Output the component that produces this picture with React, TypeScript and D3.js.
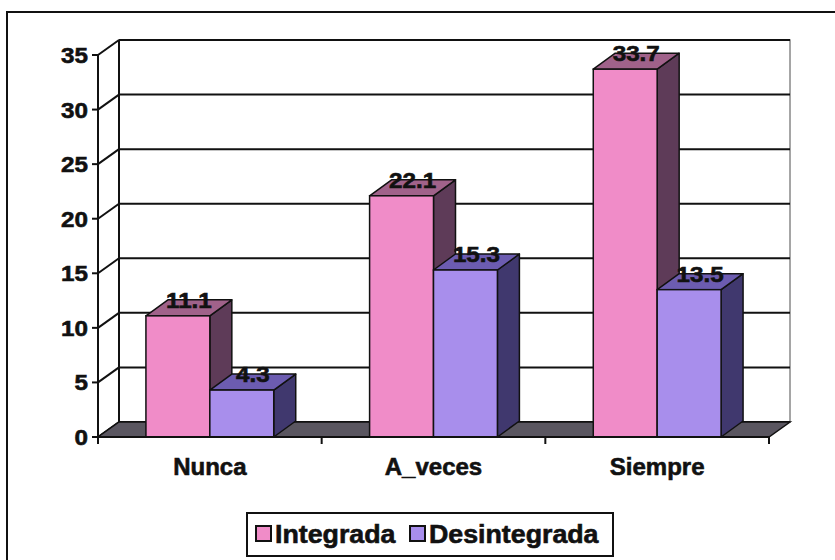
import React from "react";
import * as d3 from "d3";

const categories = ["Nunca", "A_veces", "Siempre"];
const seriesNames = ["Integrada", "Desintegrada"];
const integrada = [11.1, 22.1, 33.7];
const desintegrada = [4.3, 15.3, 13.5];
const yTicks = [0, 5, 10, 15, 20, 25, 30, 35];

const W = 835, H = 560;
const left = 98, right = 769, bottom = 437, top = 55;
const wdx = 21, wdy = -15; // wall depth
const bdx = 22, bdy = -16; // bar depth

const colors = {
  Integrada: { front: "#F08CC8", top: "#A0628A", side: "#5E3B58" },
  Desintegrada: { front: "#A88EEC", top: "#6C5CB0", side: "#40386E" },
};

const FONT = "Liberation Sans, Arial, sans-serif";

export default function App() {
  const y = d3.scaleLinear().domain([0, 35]).range([bottom, top]);
  const x0 = d3.scaleBand<string>().domain(categories).range([left, right]).padding(0);
  const cw = x0.bandwidth();
  const x1 = d3
    .scaleBand<string>()
    .domain(seriesNames)
    .range([(cw * 0.75) / 3.5, cw - (cw * 0.75) / 3.5])
    .padding(0);
  const values: Record<string, number[]> = { Integrada: integrada, Desintegrada: desintegrada };
  const bw = x1.bandwidth();

  const bars: JSX.Element[] = [];
  categories.forEach((c, i) => {
    seriesNames.forEach((s) => {
      const v = values[s][i];
      const xl = (x0(c) as number) + (x1(s) as number);
      const xr = xl + bw;
      const yt = y(v);
      const yb = y(0);
      const col = (colors as any)[s];
      const k = `${c}-${s}`;
      bars.push(
        <g key={k}>
          <polygon
            points={`${xr},${yb} ${xr + bdx},${yb + bdy} ${xr + bdx},${yt + bdy} ${xr},${yt}`}
            fill={col.side}
            stroke="#111"
            strokeWidth={1.5}
            strokeLinejoin="round"
          />
          <polygon
            points={`${xl},${yt} ${xr},${yt} ${xr + bdx},${yt + bdy} ${xl + bdx},${yt + bdy}`}
            fill={col.top}
            stroke="#111"
            strokeWidth={1.5}
            strokeLinejoin="round"
          />
          <rect x={xl} y={yt} width={bw} height={yb - yt} fill={col.front} stroke="#111" strokeWidth={1.5} />
        </g>
      );
    });
  });

  const labels: JSX.Element[] = [];
  categories.forEach((c, i) => {
    seriesNames.forEach((s) => {
      const v = values[s][i];
      const cx = (x0(c) as number) + (x1(s) as number) + bw / 2 + bdx / 2;
      const ty = y(v) - 8;
      labels.push(
        <text
          key={`l-${c}-${s}`}
          transform={`translate(${cx},${ty}) scale(1.1,1)`}
          textAnchor="middle"
          fontFamily={FONT}
          fontWeight="bold"
          fontSize={22}
          fill="#111"
          stroke="#111"
          strokeWidth={0.6}
        >
          {v.toFixed(1)}
        </text>
      );
    });
  });

  const yb0 = y(0);
  const backTop = y(35) + wdy;

  return (
    <svg
      width={W}
      height={H}
      viewBox={`0 0 ${W} ${H}`}
      style={{ position: "absolute", left: 0, top: 0, background: "#fff" }}
    >
      <rect x={0} y={0} width={W} height={H} fill="#fff" />
      <rect x={7} y={12} width={850} height={580} fill="none" stroke="#111" strokeWidth={2} />

      {/* back wall */}
      <rect
        x={left + wdx}
        y={backTop}
        width={right - left}
        height={yb0 - y(35)}
        fill="#fff"
        stroke="#888"
        strokeWidth={1.5}
      />
      {yTicks.map((t) => (
        <g key={`g${t}`}>
          <line x1={left + wdx} x2={right + wdx} y1={y(t) + wdy} y2={y(t) + wdy} stroke="#111" strokeWidth={2} />
          <line x1={left} x2={left + wdx} y1={y(t)} y2={y(t) + wdy} stroke="#111" strokeWidth={2} />
        </g>
      ))}
      <line x1={left + wdx} x2={left + wdx} y1={backTop} y2={yb0 + wdy} stroke="#111" strokeWidth={2} />

      {/* floor */}
      <polygon
        points={`${left},${yb0} ${right},${yb0} ${right + wdx},${yb0 + wdy} ${left + wdx},${yb0 + wdy}`}
        fill="#5A5660"
        stroke="#111"
        strokeWidth={1.5}
      />

      {/* y axis */}
      <line x1={left} x2={left} y1={y(35)} y2={yb0} stroke="#111" strokeWidth={2} />
      {yTicks.map((t) => (
        <g key={`t${t}`}>
          <line x1={left - 6} x2={left} y1={y(t)} y2={y(t)} stroke="#111" strokeWidth={2} />
          <text
            transform={`translate(${left - 10},${y(t) + 8}) scale(1.1,1)`}
            textAnchor="end"
            fontFamily={FONT}
            fontWeight="bold"
            fontSize={22}
            fill="#111"
            stroke="#111"
            strokeWidth={0.6}
          >
            {t}
          </text>
        </g>
      ))}

      {bars}

      {/* x axis */}
      <line x1={left} x2={right} y1={yb0} y2={yb0} stroke="#111" strokeWidth={2} />
      {[...categories.map((c) => x0(c) as number), right].map((xx, i) => (
        <line key={`xt${i}`} x1={xx} x2={xx} y1={yb0} y2={yb0 + 7} stroke="#111" strokeWidth={2} />
      ))}
      {categories.map((c) => (
        <text
          key={`c${c}`}
          x={(x0(c) as number) + cw / 2}
          y={475}
          textAnchor="middle"
          fontFamily={FONT}
          fontWeight="bold"
          fontSize={24}
          fill="#111"
          stroke="#111"
          strokeWidth={0.6}
        >
          {c}
        </text>
      ))}

      {labels}

      {/* legend */}
      <rect x={247} y={513} width={366} height={43} fill="#fff" stroke="#111" strokeWidth={2} />
      {seriesNames.map((s, i) => {
        const sx = i === 0 ? 256 : 410;
        const col = (colors as any)[s];
        return (
          <g key={`lg${s}`}>
            <rect x={sx} y={526} width={15} height={15} fill={col.front} stroke="#111" strokeWidth={2} />
            <text
              transform={`translate(${sx + 19},543) scale(1.05,1)`}
              fontFamily={FONT}
              fontWeight="bold"
              fontSize={25.5}
              fill="#111"
              stroke="#111"
              strokeWidth={0.6}
            >
              {s}
            </text>
          </g>
        );
      })}
    </svg>
  );
}
